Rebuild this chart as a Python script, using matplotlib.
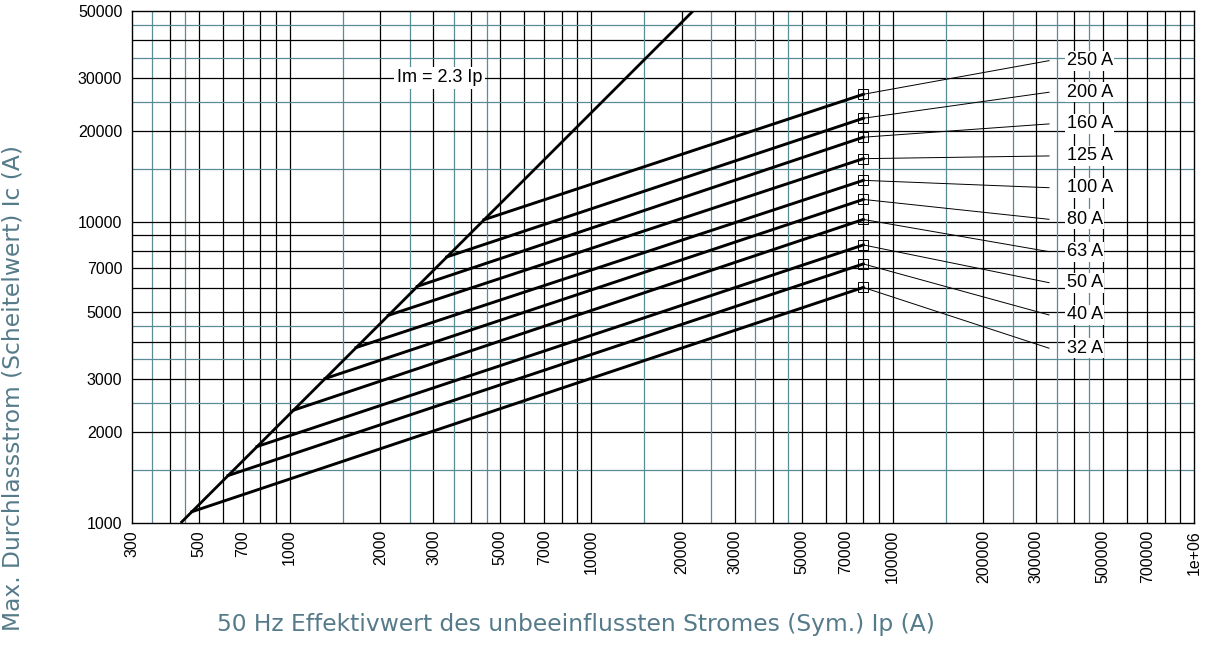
import numpy as np
import matplotlib
matplotlib.use("Agg")
import matplotlib.pyplot as plt
from matplotlib.ticker import FixedLocator, FixedFormatter, NullFormatter

plt.rcParams['font.family'] = ['Liberation Sans', 'DejaVu Sans']

# Bemessungsströme und Kennlinien
ratings = ["32 A", "40 A", "50 A", "63 A", "80 A", "100 A", "125 A", "160 A", "200 A", "250 A"]
ip_start = [474, 625, 780, 1029, 1311, 1661, 2125, 2652, 3320, 4414]
ic_start = [1090, 1437, 1794, 2367, 3015, 3820, 4888, 6100, 7636, 10150]
ip_end = [80000] * 10
ic_end = [6050, 7240, 8370, 10170, 11850, 13710, 16180, 19060, 22030, 26460]
label_ic = [3802, 4902, 6273, 7950, 10180, 12960, 16520, 21100, 26880, 34210]
leader_ip = 330500
label_ip = 378000

# Im = 2.3 Ip Gerade
im_ip = [435, 21790]
im_ic = [1000, 50000]

x_ticks = [300, 500, 700, 1000, 2000, 3000, 5000, 7000, 10000, 20000, 30000,
           50000, 70000, 100000, 200000, 300000, 500000, 700000, 1000000]
x_tick_labels = ["300", "500", "700", "1000", "2000", "3000", "5000", "7000", "10000",
                 "20000", "30000", "50000", "70000", "100000", "200000", "300000",
                 "500000", "700000", "1e+06"]
y_ticks = [1000, 2000, 3000, 5000, 7000, 10000, 20000, 30000, 50000]
y_tick_labels = ["1000", "2000", "3000", "5000", "7000", "10000", "20000", "30000", "50000"]

teal = "#5a8c96"
label_col = "#557b8a"

fig = plt.figure(figsize=(12.05, 6.48), dpi=100)
ax = fig.add_axes([132/1205, 1 - 523/648, 1062/1205, 512/648])
ax.set_xscale('log')
ax.set_yscale('log')
ax.set_xlim(300, 1e6)
ax.set_ylim(1000, 50000)

# Gitter: schwarz bei 1..9, türkis bei 1.5, 2.5, 3.5, 4.5
black_subs = [1, 2, 3, 4, 5, 6, 7, 8, 9]
teal_subs = [1.5, 2.5, 3.5, 4.5]
for dec in [100, 1000, 10000, 100000, 1000000]:
    for s in black_subs:
        v = s * dec
        if 300 < v < 1e6:
            ax.axvline(v, color='black', lw=0.9, zorder=1)
        if 1000 < v < 50000:
            ax.axhline(v, color='black', lw=0.9, zorder=1)
    for s in teal_subs:
        v = s * dec
        if 300 < v < 1e6:
            ax.axvline(v, color=teal, lw=0.9, zorder=1)
        if 1000 < v < 50000:
            ax.axhline(v, color=teal, lw=0.9, zorder=1)

ax.plot(im_ip, im_ic, color='black', lw=2, zorder=3, solid_capstyle='butt')
ax.text(2270, 30000, "Im = 2.3 Ip", fontsize=13, ha='left', va='center', zorder=5,
        bbox=dict(facecolor='white', edgecolor='none', pad=2))

for i in range(len(ratings)):
    ax.plot([ip_start[i], ip_end[i]], [ic_start[i], ic_end[i]], color='black', lw=2.1, zorder=3)
    ax.plot([ip_end[i], leader_ip], [ic_end[i], label_ic[i]], color='black', lw=0.7, zorder=3)
    ax.plot(ip_end[i], ic_end[i], marker='s', ms=6.5, mfc='none', mec='black', mew=0.7, zorder=4)
    ax.text(label_ip, label_ic[i], ratings[i], fontsize=13, ha='left', va='center', zorder=5,
            bbox=dict(facecolor='white', edgecolor='none', pad=1))

ax.xaxis.set_major_locator(FixedLocator(x_ticks))
ax.xaxis.set_major_formatter(FixedFormatter(x_tick_labels))
ax.xaxis.set_minor_formatter(NullFormatter())
ax.yaxis.set_major_locator(FixedLocator(y_ticks))
ax.yaxis.set_major_formatter(FixedFormatter(y_tick_labels))
ax.yaxis.set_minor_formatter(NullFormatter())
ax.tick_params(which='both', length=0)
ax.tick_params(axis='x', labelrotation=90, labelsize=11.5, pad=5)
ax.tick_params(axis='y', labelsize=11.5, pad=7)
for sp in ax.spines.values():
    sp.set_linewidth(1.0)

xlab = fig.text(217/1205, 1 - 625/648, "50 Hz Effektivwert des unbeeinflussten Stromes (Sym.) Ip (A)",
                fontsize=14, color=label_col, family=['DejaVu Sans'], ha='left', va='center')
ylab = fig.text(13/1205, 1 - 388/648, "Max. Durchlassstrom (Scheitelwert) Ic (A)",
                fontsize=14, color=label_col, family=['DejaVu Sans'], ha='center', va='center',
                rotation=90)

# Breite der Achsentitel an die Vorlage anpassen (x-Titel ca. 721 px breit)
fig.canvas.draw()
w = xlab.get_window_extent().width
scale = 721 / w
xlab.set_fontsize(14 * scale)
ylab.set_fontsize(14 * scale)

fig.savefig("out.png", dpi=100)
